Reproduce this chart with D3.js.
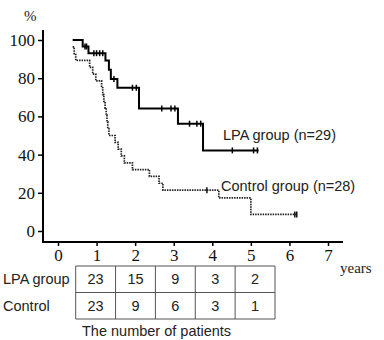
<!DOCTYPE html>
<html><head><meta charset="utf-8">
<script src="https://cdn.jsdelivr.net/npm/d3@7"></script>
<style>html,body{margin:0;padding:0;background:#fff;}svg{display:block;}
</style>
</head><body>
<svg id="c" width="384" height="340"></svg>
<script>
const xTicks = [0,1,2,3,4,5,6,7];
const yTicks = [0,20,40,60,80,100];
const lpaTimes  = [0.38,0.64,0.79,1.23,1.32,1.37,1.54,2.10,3.11,3.76,5.20];
const lpaSurv   = [100,96.6,93.1,89.3,84.4,79.6,75.0,64.2,56.2,42.2,42.2];
const lpaCensor = [0.70,0.74,0.93,1.00,1.08,1.16,1.45,1.93,2.03,2.69,2.93,3.03,3.41,3.60,3.70,4.52,5.07,5.17];
const ctlTimes  = [0.38,0.42,0.46,0.82,0.90,0.98,1.13,1.16,1.19,1.22,1.25,1.27,1.29,1.32,1.48,1.56,1.64,1.72,1.93,2.37,2.62,2.72,4.17,5.00,6.20];
const ctlSurv   = [96.4,92.9,89.3,85.7,82.1,78.6,75.0,71.4,67.9,64.3,60.7,57.1,53.6,50.0,46.4,42.9,39.3,35.7,32.1,28.6,25.0,21.4,17.3,8.7,8.7];
const ctlCensor = [3.86,6.14,6.19];
const tableYears = [1,2,3,4,5];
const lpaAtRisk = [23,15,9,3,2];
const ctlAtRisk = [23,9,6,3,1];
const rowLabels = ["LPA group","Control"];

const svg = d3.select("#c");
const x = d3.scaleLinear().domain([0,7]).range([58,328]);
const y = d3.scaleLinear().domain([0,100]).range([231,40]);
const sans = "'Liberation Sans',Arial,sans-serif";
const serif = "'Liberation Serif','Times New Roman','DejaVu Serif',serif";

// axes
const gy = svg.append("g").attr("transform","translate(43,0)")
  .call(d3.axisLeft(y).tickValues(yTicks).tickFormat(d3.format("d")).tickSize(5).tickPadding(3));
const gx = svg.append("g").attr("transform","translate(0,242)")
  .call(d3.axisBottom(x).tickValues(xTicks).tickFormat(d3.format("d")).tickSize(4).tickPadding(3));
[gy,gx].forEach(g=>{
  g.attr("font-family",serif).attr("font-size",17);
  g.select(".domain").remove();
  g.selectAll(".tick line").attr("stroke","#000").attr("stroke-width",1.5);
  g.selectAll(".tick text").attr("fill","#111").style("font-family",serif).style("font-size","17px");
});
svg.append("line").attr("x1",43).attr("x2",43).attr("y1",30).attr("y2",243).attr("stroke","#000").attr("stroke-width",2);
svg.append("line").attr("x1",42).attr("x2",343).attr("y1",242).attr("y2",242).attr("stroke","#000").attr("stroke-width",2);

svg.append("text").attr("x",24).attr("y",21).text("%").style("font-family",serif).style("font-size","15px").attr("fill","#222");
svg.append("text").attr("x",340).attr("y",273).text("years").style("font-family",serif).style("font-size","15px").attr("fill","#222");

function survAt(times, surv, t){
  let v = surv[0];
  for(let i=0;i<times.length;i++){ if(times[i]<=t) v = surv[i]; }
  return v;
}
const line = d3.line().x(d=>x(d[0])).y(d=>y(d[1])).curve(d3.curveStepAfter);

// control (dotted)
const ctlData = ctlTimes.map((t,i)=>[t,ctlSurv[i]]);
svg.append("path").attr("d",line(ctlData)).attr("fill","none").attr("stroke","#222")
  .attr("stroke-width",1.7).attr("stroke-dasharray","1.5,1");
svg.selectAll(".cc").data(ctlCensor).enter().append("line")
  .attr("x1",d=>x(d)).attr("x2",d=>x(d))
  .attr("y1",d=>y(survAt(ctlTimes,ctlSurv,d))-3).attr("y2",d=>y(survAt(ctlTimes,ctlSurv,d))+3)
  .attr("stroke","#111").attr("stroke-width",1.5);

// LPA (solid)
const lpaData = lpaTimes.map((t,i)=>[t,lpaSurv[i]]);
svg.append("path").attr("d",line(lpaData)).attr("fill","none").attr("stroke","#000").attr("stroke-width",2);
svg.selectAll(".lc").data(lpaCensor).enter().append("line")
  .attr("x1",d=>x(d)).attr("x2",d=>x(d))
  .attr("y1",d=>y(survAt(lpaTimes,lpaSurv,d))-3).attr("y2",d=>y(survAt(lpaTimes,lpaSurv,d))+3)
  .attr("stroke","#000").attr("stroke-width",1.5);

svg.append("text").attr("x",223).attr("y",140).text("LPA group (n=29)").style("font-family",sans).style("font-size","14.5px").attr("fill","#222");
svg.append("text").attr("x",221).attr("y",191).text("Control group (n=28)").style("font-family",sans).style("font-size","14.5px").attr("fill","#222");

// table
const tx = d3.scaleBand().domain(tableYears).range([75.7,275]);
const ty = d3.scaleBand().domain([0,1]).range([266,319]);
const tbl = svg.append("g");
const edgesX = tableYears.map(d=>tx(d)).concat([tx.range()[1]]);
edgesX.forEach(ex=>tbl.append("line").attr("x1",ex).attr("x2",ex).attr("y1",266).attr("y2",319).attr("stroke","#555").attr("stroke-width",1));
[266,ty(1),319].forEach(ey=>tbl.append("line").attr("x1",75.7).attr("x2",275).attr("y1",ey).attr("y2",ey).attr("stroke","#555").attr("stroke-width",1));
[lpaAtRisk,ctlAtRisk].forEach((arr,r)=>{
  tbl.selectAll(".r"+r).data(arr).enter().append("text")
    .attr("x",(d,i)=>tx(tableYears[i])+tx.bandwidth()/2)
    .attr("y",ty(r)+ty.bandwidth()/2+5)
    .attr("text-anchor","middle").text(d=>d)
    .style("font-family",sans).style("font-size","14.5px").attr("fill","#222");
  tbl.append("text").attr("x",3).attr("y",ty(r)+ty.bandwidth()/2+5).text(rowLabels[r])
    .style("font-family",sans).style("font-size","14.5px").attr("fill","#222");
});
svg.append("text").attr("x",82).attr("y",336).text("The number of patients").style("font-family",sans).style("font-size","14.5px").attr("fill","#222");
</script>
</body></html>
